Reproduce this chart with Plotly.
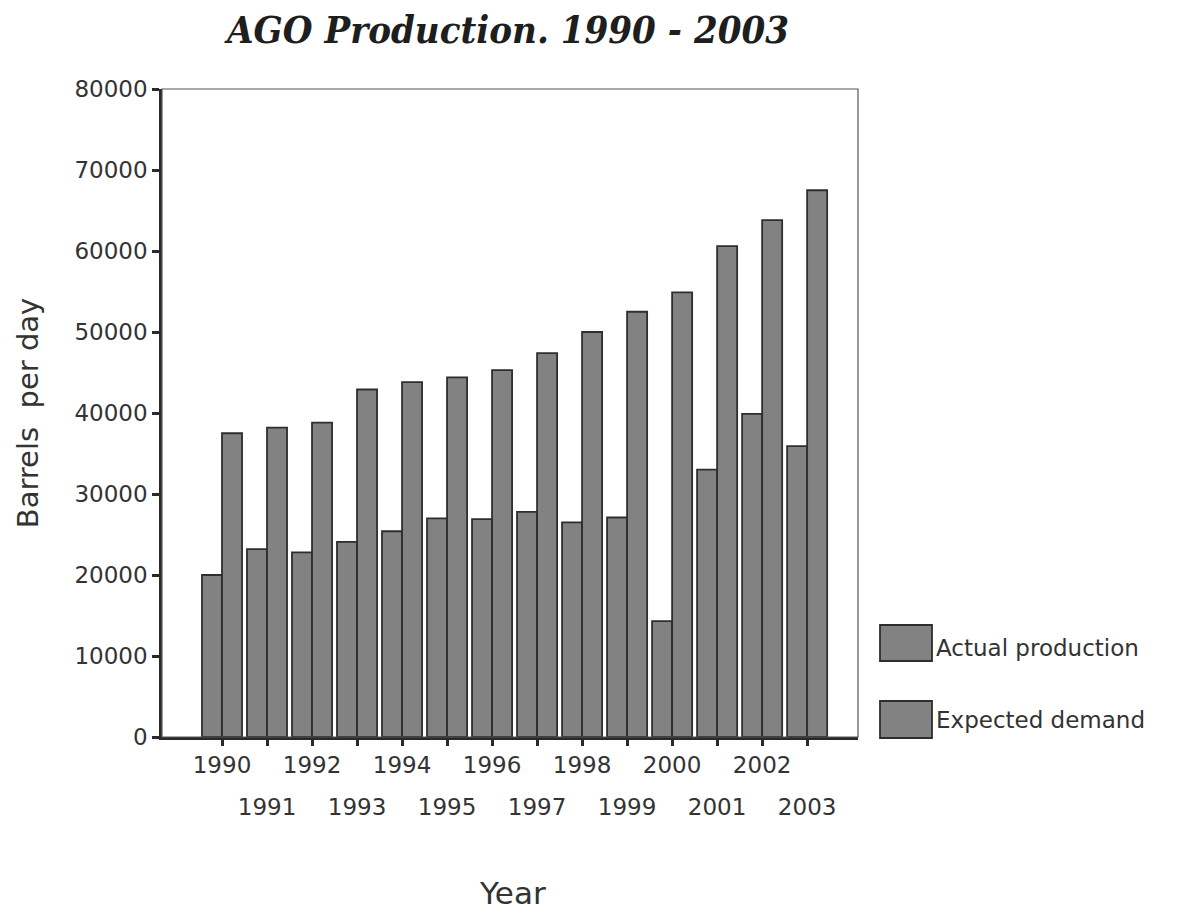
import plotly.graph_objects as go

# AGO (automotive gas oil) production versus expected demand, barrels per day
years = [1990, 1991, 1992, 1993, 1994, 1995, 1996,
         1997, 1998, 1999, 2000, 2001, 2002, 2003]
actual_production = [20000, 23200, 22800, 24100, 25400, 27000, 26900,
                     27800, 26500, 27100, 14300, 33000, 39900, 35900]
expected_demand = [37500, 38200, 38800, 42900, 43800, 44400, 45300,
                   47400, 50000, 52500, 54900, 60600, 63800, 67500]
y_ticks = [0, 10000, 20000, 30000, 40000, 50000, 60000, 70000, 80000]

series_names = ["Actual production", "Expected demand"]

W, H = 1177, 916
L, R, T, B = 162, 858, 89, 737          # plot area in pixels
idx = list(range(len(years)))
x_range = [-1.333, len(years) - 1 + 1.13]

TEXT = "#333333"
BAR_FILL = "#828282"
BAR_EDGE = "#2e2e2e"
FONT = "DejaVu Sans"

fig = go.Figure()
for name, vals in zip(series_names, [actual_production, expected_demand]):
    fig.add_trace(go.Bar(
        x=idx, y=vals, name=name,
        marker=dict(color=BAR_FILL, line=dict(color=BAR_EDGE, width=1.8)),
        showlegend=False,
    ))

# carrier for the second row of year labels
odd_idx = idx[1::2]
fig.add_trace(go.Scatter(
    x=odd_idx, y=[0] * len(odd_idx), xaxis="x2", mode="markers",
    marker=dict(opacity=0, size=1), hoverinfo="skip", showlegend=False,
))


def px_x(p):
    return (p - L) / (R - L)


def px_y(p):
    return (B - p) / (B - T)


shapes = [
    # frame around the plot area
    dict(type="rect", xref="paper", yref="paper", x0=0, x1=1, y0=0, y1=1,
         line=dict(color="#555555", width=1.2), layer="above"),
]
annotations = []

# legend boxes and labels
legend_rows = [(625, 661, 648), (701, 738, 720)]
for name, (top, bot, mid) in zip(series_names, legend_rows):
    shapes.append(dict(
        type="rect", xref="paper", yref="paper",
        x0=px_x(880), x1=px_x(932), y0=px_y(bot), y1=px_y(top),
        fillcolor=BAR_FILL, line=dict(color=BAR_EDGE, width=1.8),
    ))
    annotations.append(dict(
        text=name, xref="paper", yref="paper", x=px_x(934), y=px_y(mid),
        xanchor="left", yanchor="middle", showarrow=False,
        font=dict(family=FONT, size=23, color=TEXT),
    ))

# chart title
annotations.append(dict(
    text="AGO Production. 1990 - 2003", xref="paper", yref="paper",
    x=px_x(506), y=px_y(29), xanchor="center", yanchor="middle",
    showarrow=False,
    font=dict(family="DejaVu Serif Condensed", size=38, color="#1e1e1e",
              weight="bold", style="italic"),
))

# axis title for the category axis
annotations.append(dict(
    text="Year", xref="paper", yref="paper", x=px_x(512), y=px_y(893),
    xanchor="center", yanchor="middle", showarrow=False,
    font=dict(family=FONT, size=31, color=TEXT),
))

fig.update_layout(
    width=W, height=H,
    margin=dict(l=L, r=W - R, t=T, b=H - B, autoexpand=False),
    paper_bgcolor="white", plot_bgcolor="white",
    barmode="group", bargap=0.11, bargroupgap=0,
    font=dict(family=FONT, color=TEXT),
    shapes=shapes, annotations=annotations,
    xaxis=dict(
        range=x_range, tickmode="array", tickvals=idx,
        ticktext=[str(y) if i % 2 == 0 else "" for i, y in enumerate(years)],
        ticks="outside", ticklen=6, tickwidth=3, tickcolor="#2a2a2a",
        showline=True, linecolor="#2a2a2a", linewidth=2.5,
        showgrid=False, zeroline=False,
        tickfont=dict(family=FONT, size=23, color=TEXT),
    ),
    xaxis2=dict(
        overlaying="x", anchor="y", side="bottom", matches="x",
        range=x_range, tickmode="array", tickvals=odd_idx,
        ticktext=[str(years[i]) for i in odd_idx],
        ticks="", showline=False, showgrid=False, zeroline=False,
        ticklabelstandoff=54,
        tickfont=dict(family=FONT, size=23, color=TEXT),
    ),
    yaxis=dict(
        range=[0, 80000], tickmode="array", tickvals=y_ticks,
        ticktext=[str(v) for v in y_ticks],
        ticks="outside", ticklen=7, tickwidth=3, tickcolor="#2a2a2a",
        showline=True, linecolor="#2a2a2a", linewidth=2.5,
        showgrid=False, zeroline=False,
        tickfont=dict(family=FONT, size=23, color=TEXT),
        title=dict(text="Barrels\u00a0 per day", standoff=28,
                   font=dict(family=FONT, size=29, color=TEXT)),
    ),
)

fig.write_html("out.html")
